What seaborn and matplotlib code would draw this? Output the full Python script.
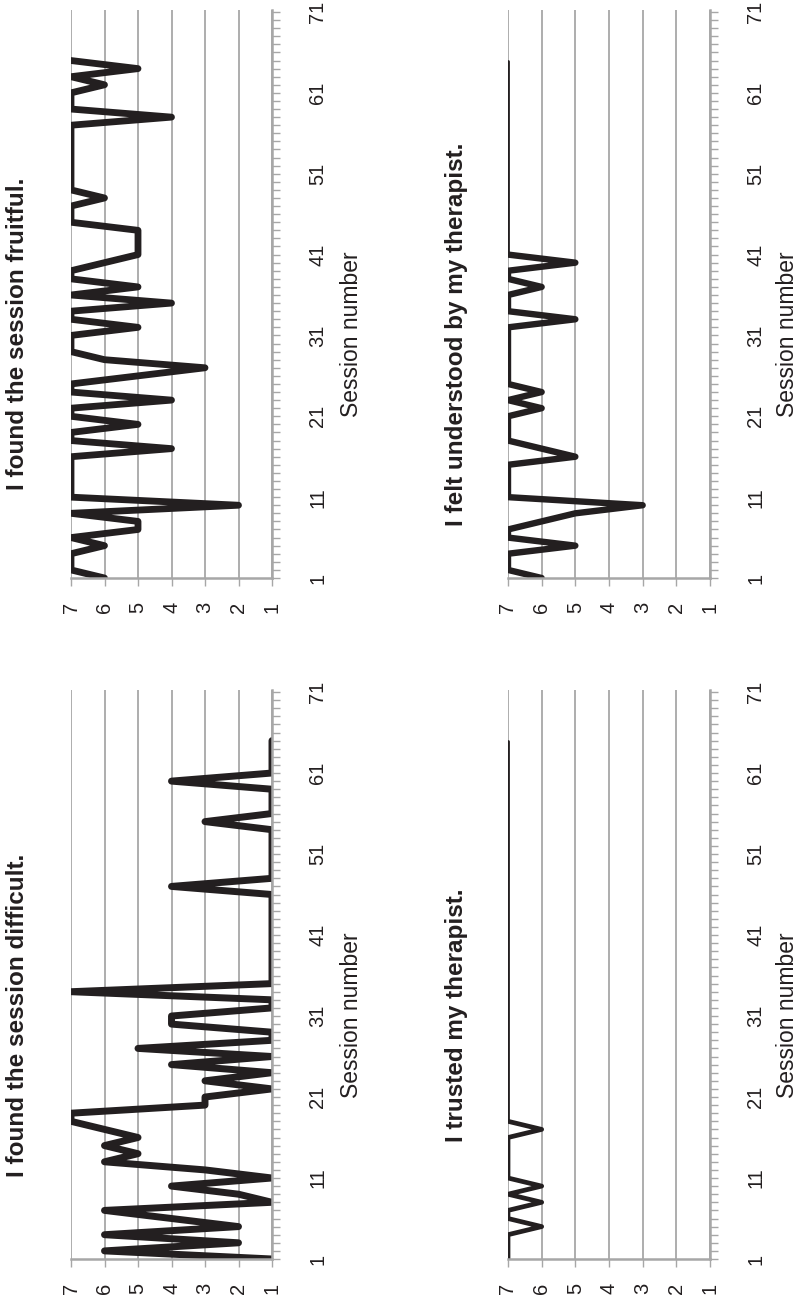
import pandas as pd
import seaborn as sns
import matplotlib.pyplot as plt
from matplotlib.ticker import FixedLocator, MultipleLocator

sns.set_style("white")
plt.rcParams["font.family"] = ["Liberation Sans", "DejaVu Sans"]

# ratings per session (1..65)
sessions = list(range(1, 66))

fruitful = [6, 7, 7, 7, 6, 7, 5, 5, 7, 2,
            7, 7, 7, 7, 7, 7, 4, 7, 7, 5,
            7, 7, 4, 7, 7, 5, 3, 6, 7, 7,
            7, 5, 7, 7, 4, 7, 5, 7, 7, 6,
            5, 5, 5, 5, 7, 7, 7, 6, 7, 7,
            7, 7, 7, 7, 7, 7, 7, 4, 7, 7,
            7, 6, 7, 5, 7]

difficult = [1, 6, 2, 6, 2, 4, 6, 1, 2, 4,
             1, 3, 6, 5, 6, 5, 6, 7, 7, 3,
             3, 1, 3, 1, 4, 1, 5, 1, 1, 4,
             4, 1, 1, 7, 1, 1, 1, 1, 1, 1,
             1, 1, 1, 1, 1, 1, 4, 1, 1, 1,
             1, 1, 1, 1, 3, 1, 1, 1, 1, 4,
             1, 1, 1, 1, 1]

understood = [6, 7, 7, 7, 5, 7, 7, 6, 5, 3,
              7, 7, 7, 7, 7, 5, 6, 7, 7, 7,
              7, 6, 7, 6, 7, 7, 7, 7, 7, 7,
              7, 7, 5, 7, 7, 7, 6, 7, 7, 5,
              7, 7, 7, 7, 7, 7, 7, 7, 7, 7,
              7, 7, 7, 7, 7, 7, 7, 7, 7, 7,
              7, 7, 7, 7, 7]

trusted = [7, 7, 7, 7, 6, 7, 7, 6, 7, 6,
           7, 7, 7, 7, 7, 7, 6, 7, 7, 7,
           7, 7, 7, 7, 7, 7, 7, 7, 7, 7,
           7, 7, 7, 7, 7, 7, 7, 7, 7, 7,
           7, 7, 7, 7, 7, 7, 7, 7, 7, 7,
           7, 7, 7, 7, 7, 7, 7, 7, 7, 7,
           7, 7, 7, 7, 7]

titles = ["I found the session fruitful.",
          "I found the session difficult.",
          "I felt understood by my therapist.",
          "I trusted my therapist."]
rating_ticks = [7, 6, 5, 4, 3, 2, 1]
session_ticks = [1, 11, 21, 31, 41, 51, 61, 71]
axis_label = "Session number"

INK = "#231f20"
GRID = "#a7a7a7"
W, H = 802, 1314

fig = plt.figure(figsize=(W / 100, H / 100), dpi=100)


def rect(x0, x1, ytop, ybot):
    return [x0 / W, 1 - ybot / H, (x1 - x0) / W, (ybot - ytop) / H]


# values, title, session where line turns thin, main width, axes box, title x, label x, text y
panels = [
    (fruitful, titles[0], None, 4.9, rect(71, 272, 10, 578), 17.5, 352, 334),
    (difficult, titles[1], None, 5.0, rect(71, 272, 690, 1259), 17.5, 352, 1015),
    (understood, titles[2], 41, 4.6, rect(508, 710, 10, 578), 456, 788, 334),
    (trusted, titles[3], 18, 3.4, rect(508, 710, 690, 1259), 456, 788, 1015),
]

for values, title, thin_from, lw, box, tx, lx, ty in panels:
    ax = fig.add_axes(box)
    df = pd.DataFrame({"session": sessions, "rating": values})
    line_kw = dict(x="rating", y="session", orient="y", sort=False,
                   estimator=None, errorbar=None, color=INK, ax=ax,
                   solid_joinstyle="round", solid_capstyle="round")
    if thin_from:
        sns.lineplot(data=df[df.session <= thin_from], lw=lw, **line_kw)
        sns.lineplot(data=df[df.session >= thin_from], lw=2.0, **line_kw)
    else:
        sns.lineplot(data=df, lw=lw, **line_kw)

    ax.set_xlim(7, 1)
    ax.set_ylim(1, 71.25)
    ax.set_xlabel("")
    ax.set_ylabel("")

    ax.xaxis.set_major_locator(FixedLocator(rating_ticks))
    ax.xaxis.grid(True, color=GRID, lw=1.3)
    ax.yaxis.grid(False)
    ax.set_axisbelow(True)

    for s in ["left", "top"]:
        ax.spines[s].set_visible(False)
    for s in ["right", "bottom"]:
        ax.spines[s].set_color(GRID)
        ax.spines[s].set_linewidth(1.8)

    ax.yaxis.tick_right()
    ax.yaxis.set_major_locator(FixedLocator(session_ticks))
    ax.yaxis.set_minor_locator(MultipleLocator(1))
    ax.tick_params(axis="y", which="both", direction="out", length=6,
                   width=1, color=GRID, right=True, left=False,
                   labelright=True, labelleft=False, pad=20,
                   labelsize=14.5, labelcolor=INK, labelrotation=90)
    for lab in ax.get_yticklabels():
        lab.set_va("center")
        lab.set_ha("left")
    ax.tick_params(axis="x", direction="out", length=6, width=1,
                   color=GRID, bottom=True, pad=11, labelsize=14.5,
                   labelcolor=INK, labelrotation=90)

    fig.text(tx / W, 1 - ty / H, title, rotation=90, ha="center",
             va="center", fontsize=17.5, fontweight="bold", color=INK)
    fig.text(lx / W, 1 - ty / H, axis_label, rotation=90, ha="center",
             va="center", fontsize=16.5, color=INK)

fig.savefig("out.png", dpi=100, facecolor="white")
